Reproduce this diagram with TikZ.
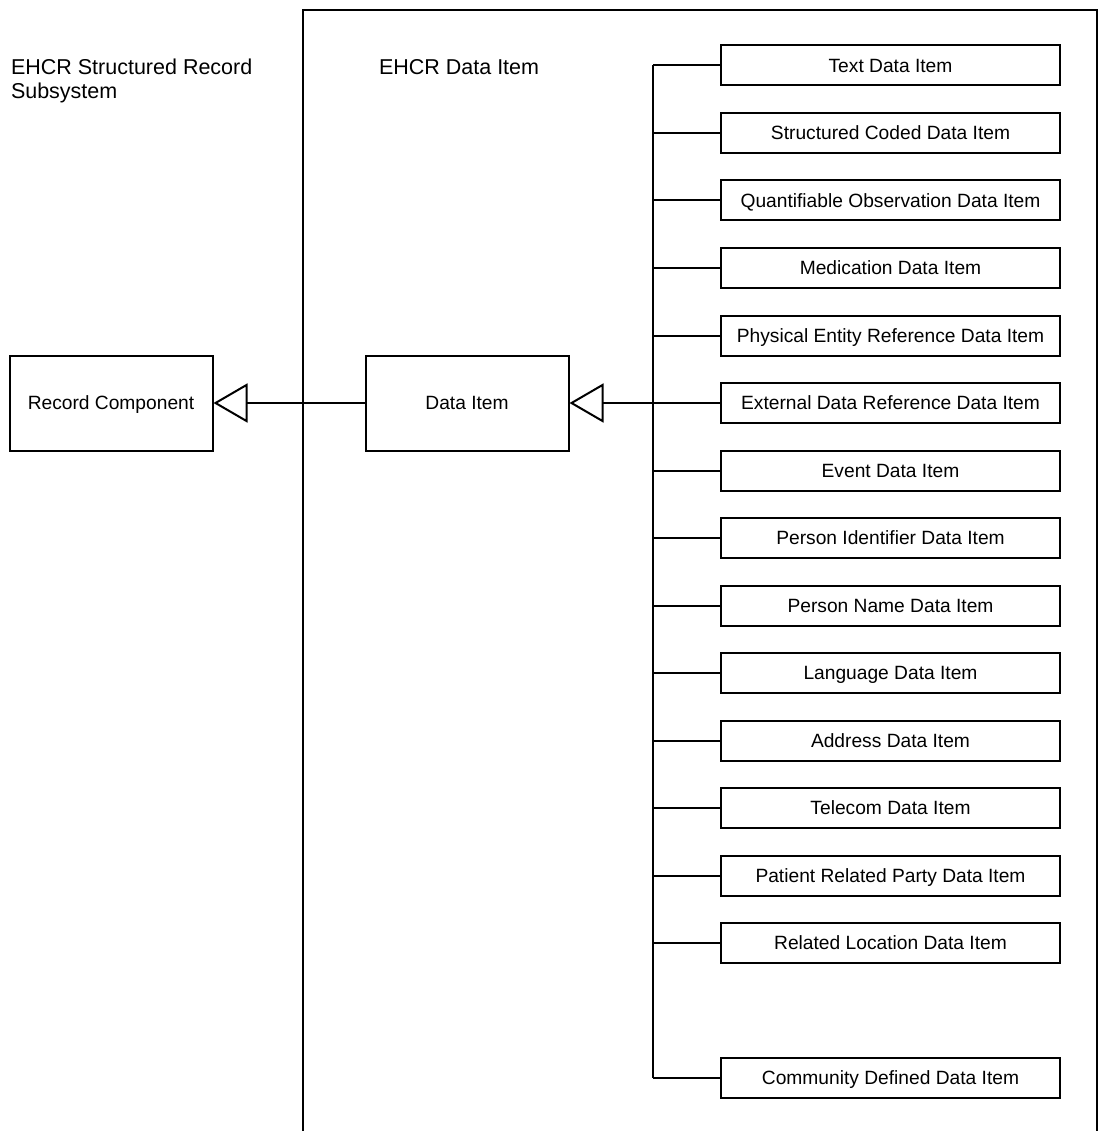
\documentclass[tikz,border=0pt]{standalone}
\usepackage{fontspec}
\setmainfont{Liberation Sans}
\usetikzlibrary{arrows.meta}
\begin{document}
\begin{tikzpicture}[x=1pt,y=-1pt,line width=2pt,
  classbox/.style={draw,inner sep=0pt,align=center,font=\fontsize{19.2}{22}\selectfont,
    text height=13.6pt,text depth=0pt},
  bigbox/.style={classbox,minimum width=203pt,minimum height=95pt},
  subbox/.style={classbox,minimum width=339pt,minimum height=40pt},
  pkgtitle/.style={inner sep=0pt,align=left,font=\fontsize{21.5}{23.5}\selectfont},
  gen/.style={-{Triangle[open,length=34pt,width=39pt]}}]
\useasboundingbox (0,0) rectangle (1098,1131);

% package frame (open at the bottom)
\draw (303,1131) |- (1097,10) -- (1097,1131);

% package titles
\node[pkgtitle,anchor=north west] (ttlsys) at (10,58) {EHCR Structured Record\\Subsystem};
\node[pkgtitle,anchor=north west] (ttlitem) at (378,58) {EHCR Data Item};

% base classes
\node[bigbox] (rc) at (111,403) {Record Component};
\node[bigbox] (di) at (467,403) {Data Item};

% specialised data items
\foreach \name/\row/\lbl in {
  s0/0/Text Data Item,
  s1/1/Structured Coded Data Item,
  s2/2/Quantifiable Observation Data Item,
  s3/3/Medication Data Item,
  s4/4/Physical Entity Reference Data Item,
  s5/5/External Data Reference Data Item,
  s6/6/Event Data Item,
  s7/7/Person Identifier Data Item,
  s8/8/Person Name Data Item,
  s9/9/Language Data Item,
  s10/10/Address Data Item,
  s11/11/Telecom Data Item,
  s12/12/Patient Related Party Data Item,
  s13/13/Related Location Data Item,
  s15/15/Community Defined Data Item}
  \node[subbox] (\name) at (890.5,{65.5+67.5*\row}) {\lbl};

% inheritance tree
\coordinate (trunk) at (653,403);
\draw (s0.west -| trunk) -- (s15.west -| trunk);
\foreach \name in {s0,s1,s2,s3,s4,s5,s6,s7,s8,s9,s10,s11,s12,s13,s15}
  \draw (\name.west) -- (\name.west -| trunk);
\draw[gen] (trunk) -- (di.east);
\draw[gen] (di.west) -- (rc.east);
\end{tikzpicture}
\end{document}
